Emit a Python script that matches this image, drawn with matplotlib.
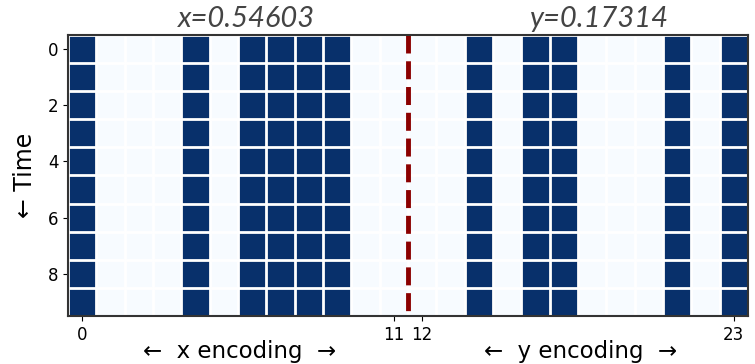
import numpy as np
import matplotlib
matplotlib.use("Agg")
import matplotlib.pyplot as plt

# which encoding bits are on (same for every time step)
x_bits = [1, 0, 0, 0, 1, 0, 1, 1, 1, 1, 0, 0]
y_bits = [0, 0, 1, 0, 1, 1, 0, 0, 0, 1, 0, 1]
n_steps = 10
x_value = "x=0.54603"
y_value = "y=0.17314"
xtick_pos = [0, 11, 12, 23]
ytick_pos = [0, 2, 4, 6, 8]

data = np.tile(np.array(x_bits + y_bits, dtype=float), (n_steps, 1))
ncol = data.shape[1]

fig = plt.figure(figsize=(7.55, 3.64), dpi=100)
ax = fig.add_axes([68/755, 1-316/364, 680/755, 281/364])

ax.imshow(data, cmap="Blues", vmin=0, vmax=1, aspect="auto", interpolation="nearest")

# white grid between cells
ax.set_xticks(np.arange(-0.5, ncol, 1), minor=True)
ax.set_yticks(np.arange(-0.5, n_steps, 1), minor=True)
ax.grid(which="minor", color="white", linewidth=2)
ax.tick_params(which="minor", length=0)

# split between x and y bits, drawn top to bottom so the dashes start at the top
split = len(x_bits) - 0.5
ax.plot([split, split], [-0.5, n_steps - 0.5], color="#8b0000", linewidth=3.5, linestyle="--")
ax.set_xlim(-0.5, ncol - 0.5)
ax.set_ylim(n_steps - 0.5, -0.5)

ax.set_xticks(xtick_pos)
ax.set_yticks(ytick_pos)
ax.tick_params(labelsize=12)
for s in ax.spines.values():
    s.set_color("#333333")
    s.set_linewidth(1.5)

ax.set_ylabel("\u2190 Time", fontsize=17, labelpad=8)

tfont = dict(family=["Lato", "DejaVu Sans"], style="italic", fontsize=21, color="#444444")
ax.text(5.8, -0.6, x_value, ha="center", va="bottom", **tfont)
ax.text(18.25, -0.6, y_value, ha="center", va="bottom", **tfont)

ax.text(5.55, 10.75, "\u2190  x encoding  \u2192", ha="center", va="center", fontsize=16.5)
ax.text(17.6, 10.75, "\u2190  y encoding  \u2192", ha="center", va="center", fontsize=16.5)

fig.savefig("out.png", dpi=100)
